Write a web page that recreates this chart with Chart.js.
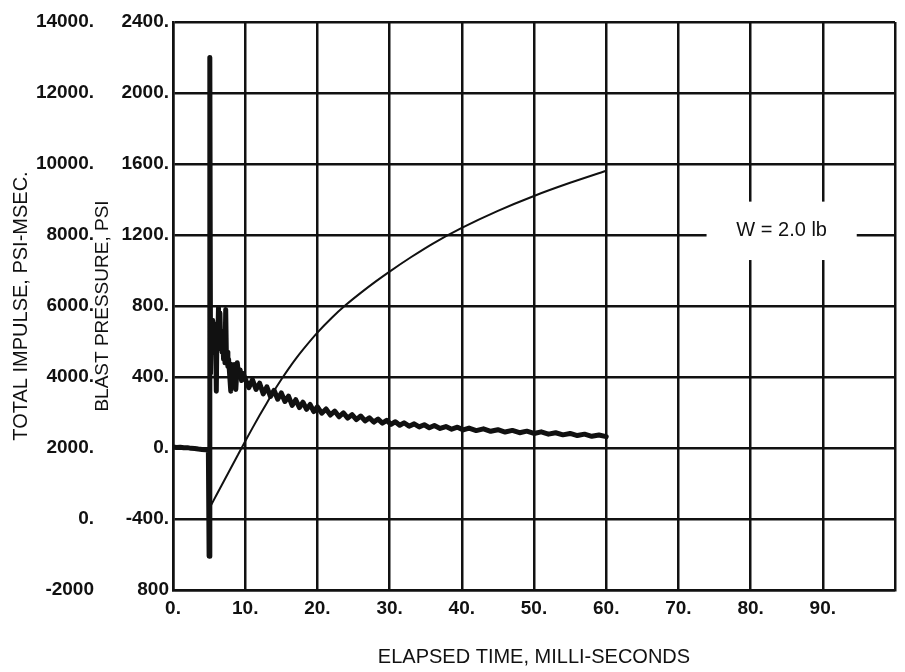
<!DOCTYPE html>
<html>
<head>
<meta charset="utf-8">
<script src="https://cdn.jsdelivr.net/npm/chart.js@4/dist/chart.umd.min.js"></script>
<style>
  html, body { margin: 0; padding: 0; background: #fff; }
  #wrap { width: 905px; height: 672px; }
</style>
</head>
<body>
<div id="wrap"><canvas id="c" width="905" height="672"></canvas></div>
<script>
// ---- Blast pressure trace (PSI) vs elapsed time (ms) ----
const timeP = [
  0.0, 0.5, 1.0, 1.5, 2.0, 2.5, 3.0, 3.5, 4.0, 4.5, 4.9,
  5.0, 5.1, 5.2, 5.3, 5.4, 5.5, 5.6, 5.7, 5.8, 5.9,
  6.0, 6.1, 6.2, 6.3, 6.4, 6.5, 6.6, 6.7, 6.8, 6.9,
  7.0, 7.1, 7.2, 7.3, 7.4, 7.5, 7.6, 7.7, 7.8,
  8.0, 8.1, 8.3, 8.5, 8.7, 8.9, 9.1, 9.3, 9.5, 9.7,
  10.0, 10.5, 11.0, 11.5, 12.0, 12.5, 13.0, 13.5, 14.0, 14.5,
  15.0, 15.5, 16.0, 16.5, 17.0, 17.5, 18.0, 18.5, 19.0, 19.5,
  20.0, 20.6, 21.2, 21.8, 22.4, 23.0, 23.6, 24.2, 24.8, 25.4,
  26.0, 26.6, 27.2, 27.8, 28.4, 29.0, 29.6, 30.2, 30.8, 31.4,
  32.0, 32.7, 33.4, 34.1, 34.8, 35.5, 36.2, 37.0, 37.8, 38.6,
  39.4, 40.2, 41.0, 42.0, 43.0, 44.0, 45.0, 46.0, 47.0, 48.0,
  49.0, 50.0, 51.0, 52.0, 53.0, 54.0, 55.0, 56.0, 57.0, 58.0,
  59.0, 60.0
];
const pressure = [
  5, 3, 4, 1, 2, -2, -3, -6, -8, -10, -12,
  -610, 2200, 420, 700, 560, 720, 540, 680, 600, 660,
  320, 700, 580, 790, 560, 760, 580, 660, 540, 620,
  500, 580, 480, 780, 500, 540, 460, 500, 440,
  320, 470, 430, 470, 330, 480, 410, 440, 380, 420,
  390, 340, 385, 330, 365, 305, 345, 290, 325, 275,
  310, 262, 292, 240, 272, 228, 258, 218, 245, 205,
  232, 196, 220, 186, 208, 176, 198, 168, 188, 160,
  180, 153, 170, 146, 163, 140, 156, 133, 148, 128,
  142, 123, 136, 119, 131, 114, 127, 110, 121, 106,
  117, 102, 112, 98, 108, 94, 103, 90, 99, 86,
  95, 82, 91, 78, 86, 74, 82, 70, 78, 66,
  73, 64
];

// ---- Total impulse (PSI-MSEC) vs elapsed time (ms) ----
const timeI = [5.3, 6, 7, 8, 9, 10, 11, 12, 13, 14, 15, 16, 17, 18, 20, 22, 24, 26, 28, 30, 33, 36, 40, 45, 50, 55, 60];
const impulse = [400, 670, 1050, 1430, 1810, 2190, 2560, 2920, 3270, 3610, 3930, 4230, 4510, 4770, 5250, 5670, 6040, 6370, 6680, 6970, 7380, 7760, 8200, 8680, 9100, 9470, 9810];

// ---- Tick values and labels ----
const xTicks = [0, 10, 20, 30, 40, 50, 60, 70, 80, 90, 100];
const xTickLabels = ['0.', '10.', '20.', '30.', '40.', '50.', '60.', '70.', '80.', '90.', ''];
const pressureTicks = [-800, -400, 0, 400, 800, 1200, 1600, 2000, 2400];
const pressureTickLabels = ['800', '-400.', '0.', '400.', '800.', '1200.', '1600.', '2000.', '2400.'];
const impulseTicks = [-2000, 0, 2000, 4000, 6000, 8000, 10000, 12000, 14000];
const impulseTickLabels = ['-2000', '0.', '2000.', '4000.', '6000.', '8000.', '10000.', '12000.', '14000.'];

const xTitle = 'ELAPSED TIME, MILLI-SECONDS';
const pressureTitle = 'BLAST PRESSURE, PSI';
const impulseTitle = 'TOTAL IMPULSE, PSI-MSEC.';
const noteText = 'W = 2.0 lb';

// ---- build data ----
const pressurePoints = timeP.map((t, i) => ({ x: t, y: pressure[i] }));
const impulsePoints = timeI.map((t, i) => ({ x: t, y: impulse[i] }));

const INK = '#111';
const FONT = "'Liberation Sans', Arial, Helvetica, sans-serif";

function lookup(ticks, labels) {
  return function (value) {
    const i = ticks.indexOf(value);
    return i >= 0 ? labels[i] : '';
  };
}

const notePlugin = {
  id: 'note',
  beforeDatasetsDraw(chart) {
    const { ctx } = chart;
    const xs = chart.scales.x, ys = chart.scales.y;
    const l = xs.getPixelForValue(73.9), r = xs.getPixelForValue(94.7);
    const t = ys.getPixelForValue(1388), b = ys.getPixelForValue(1059);
    ctx.save();
    ctx.fillStyle = '#fff';
    ctx.fillRect(l, t, r - l, b - t);
    ctx.fillStyle = INK;
    ctx.font = '20px ' + FONT;
    ctx.textAlign = 'center';
    ctx.textBaseline = 'middle';
    ctx.fillText(noteText, xs.getPixelForValue(84.3), ys.getPixelForValue(1228));
    ctx.restore();
  }
};

const tickFont = { family: FONT, size: 19, weight: 'bold' };

new Chart(document.getElementById('c'), {
  type: 'line',
  data: {
    datasets: [
      {
        label: 'Blast pressure',
        data: pressurePoints,
        yAxisID: 'y',
        borderColor: INK,
        borderWidth: 5,
        borderJoinStyle: 'round',
        borderCapStyle: 'round',
        pointRadius: 0,
        tension: 0,
        fill: false
      },
      {
        label: 'Total impulse',
        data: impulsePoints,
        yAxisID: 'y2',
        borderColor: INK,
        borderWidth: 2,
        pointRadius: 0,
        cubicInterpolationMode: 'monotone',
        fill: false
      }
    ]
  },
  options: {
    responsive: false,
    animation: false,
    parsing: false,
    layout: { padding: { top: 22, right: 10, bottom: 0, left: 0 } },
    plugins: { legend: { display: false }, tooltip: { enabled: false } },
    scales: {
      x: {
        type: 'linear',
        min: 0, max: 100,
        afterBuildTicks(s) { s.ticks = xTicks.map(v => ({ value: v })); },
        afterFit(s) { s.height = 82; },
        grid: { color: INK, lineWidth: 2.5, drawTicks: false },
        border: { display: true, color: INK, width: 2.5 },
        ticks: {
          color: INK, padding: 7, maxRotation: 0, autoSkip: false,
          font: tickFont,
          callback: lookup(xTicks, xTickLabels)
        },
        title: {
          display: true, text: xTitle, color: INK,
          font: { family: FONT, size: 20, lineHeight: 1 },
          padding: { top: 0, bottom: 5 }
        }
      },
      y: {
        type: 'linear',
        position: 'left',
        weight: 0,
        min: -800, max: 2400,
        afterBuildTicks(s) { s.ticks = pressureTicks.map(v => ({ value: v })); },
        afterFit(s) { s.width = 77; },
        grid: { color: INK, lineWidth: 2.5, drawTicks: false },
        border: { display: true, color: INK, width: 2.5 },
        ticks: {
          color: INK, padding: 4, autoSkip: false,
          font: tickFont,
          callback: lookup(pressureTicks, pressureTickLabels)
        },
        title: {
          display: true, text: pressureTitle, color: INK,
          font: { family: FONT, size: 19, lineHeight: 1 },
          padding: { top: -2.5, bottom: 0 }
        }
      },
      y2: {
        type: 'linear',
        position: 'left',
        weight: 1,
        min: -2000, max: 14000,
        afterBuildTicks(s) { s.ticks = impulseTicks.map(v => ({ value: v })); },
        afterFit(s) { s.width = 96; },
        grid: { display: false, drawTicks: false },
        border: { display: false },
        ticks: {
          color: INK, padding: 2, autoSkip: false,
          font: tickFont,
          callback: lookup(impulseTicks, impulseTickLabels)
        },
        title: {
          display: true, text: impulseTitle, color: INK,
          font: { family: FONT, size: 20, lineHeight: 1 },
          padding: { top: 11, bottom: 0 }
        }
      }
    }
  },
  plugins: [notePlugin]
});
</script>
</body>
</html>
